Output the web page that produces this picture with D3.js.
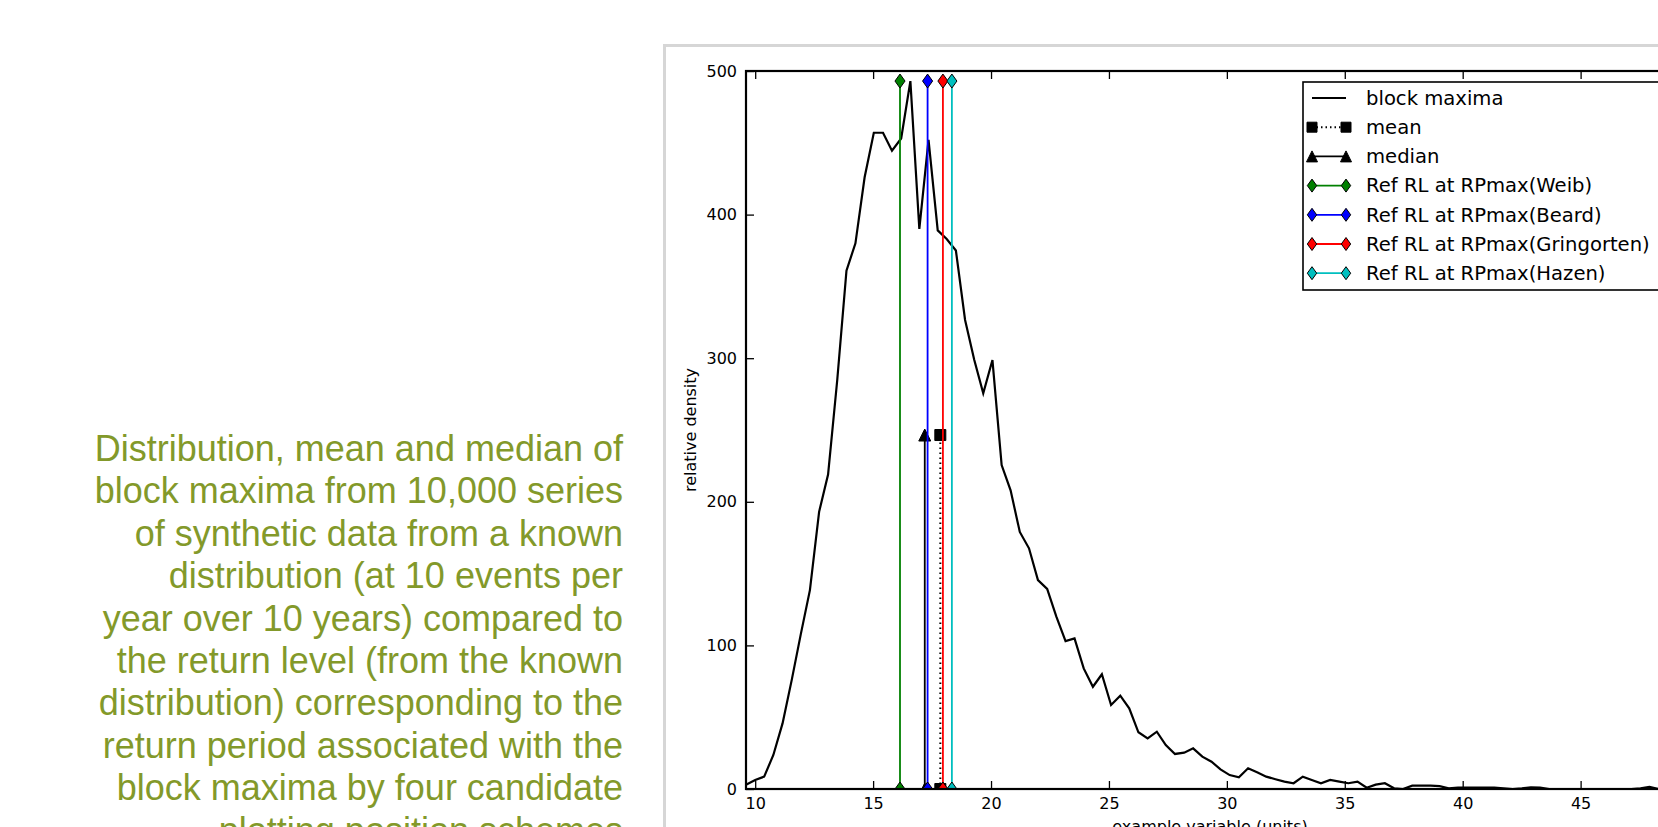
<!DOCTYPE html>
<html>
<head>
<meta charset="utf-8">
<script src="https://cdn.jsdelivr.net/npm/d3@7"></script>
<style>
  html, body { margin: 0; padding: 0; background: #fff; overflow: hidden; }
  svg { display: block; }
</style>
</head>
<body>
<div id="chart"></div>
<script>
// bin centres of the block maxima histogram (example variable, units)
var bins = [9.61, 10.00, 10.38, 10.77, 11.16, 11.55, 11.93, 12.32, 12.71, 13.09,
            13.48, 13.87, 14.25, 14.64, 15.03, 15.42, 15.80, 16.19, 16.58, 16.96,
            17.35, 17.74, 18.12, 18.51, 18.90, 19.29, 19.67, 20.06, 20.45, 20.83,
            21.22, 21.61, 21.99, 22.38, 22.77, 23.16, 23.54, 23.93, 24.32, 24.70,
            25.09, 25.48, 25.86, 26.25, 26.64, 27.03, 27.41, 27.80, 28.19, 28.57,
            28.96, 29.35, 29.73, 30.12, 30.51, 30.90, 31.28, 31.67, 32.06, 32.44,
            32.83, 33.22, 33.60, 33.99, 34.38, 34.77, 35.15, 35.54, 35.93, 36.31,
            36.70, 37.09, 37.47, 37.86, 38.25, 38.64, 39.02, 39.41, 39.80, 40.18,
            40.57, 40.96, 41.34, 41.73, 42.12, 42.51, 42.89, 43.28, 43.67, 44.05,
            44.44, 44.83, 45.21, 45.60, 45.99, 46.38, 46.76, 47.15, 47.54, 47.92,
            48.31];

// relative density
var density = [3, 6.3, 8.6, 23.7, 45.7, 76, 107.5, 138.5, 193, 219,
               285, 361, 380, 426, 457, 457, 444.5, 453, 493, 390,
               452, 389, 383, 375, 326.6, 298.7, 275.6, 298.7, 225.6, 208,
               179, 167.6, 145.5, 139.3, 120, 103, 104.9, 84, 71.2, 79.9,
               58.5, 65, 56.2, 39.5, 35.3, 39.9, 30.6, 24.4, 25.3, 28.3,
               22.5, 19, 13.7, 9.7, 8.1, 14.4, 11.6, 8.6, 6.8, 5.1,
               4, 8.6, 6.3, 4, 6.3, 5.1, 4, 5.1, 0.9, 3,
               4, 0.5, 0, 2.3, 2.3, 2.3, 2, 0.5, 1, 1,
               1, 1, 1, 0.5, 0, 0.5, 1.2, 1, 0, 0,
               0, 0, 0, 0, 0, 0, 0, 0, 0.5, 1.5,
               0];

var xTicks = [10, 15, 20, 25, 30, 35, 40, 45];
var yTicks = [0, 100, 200, 300, 400, 500];
var xDomain = [9.61, 48.96];
var yDomain = [0, 500];

var meanValue = 17.85;
var medianValue = 17.19;
var statHeight = 246.5;   // half of the peak
var refHeight = 493;      // peak of the curve

var refNames = ["Ref RL at RPmax(Weib)", "Ref RL at RPmax(Beard)",
                "Ref RL at RPmax(Gringorten)", "Ref RL at RPmax(Hazen)"];
var refValues = [16.14, 17.31, 17.96, 18.34];
var refColors = ["#008000", "#0000ff", "#ff0000", "#00bfbf"];

var caption = ["Distribution, mean and median of",
               "block maxima from 10,000 series",
               "of synthetic data from a known",
               "distribution (at 10 events per",
               "year over 10 years) compared to",
               "the return level (from the known",
               "distribution) corresponding to the",
               "return period associated with the",
               "block maxima by four candidate",
               "plotting position schemes"];

var width = 1658, height = 827;
var margin = {left: 746, top: 71, right: 1674, bottom: 789};
var font = "DejaVu Sans, sans-serif";

var svg = d3.select("#chart").append("svg")
    .attr("width", width)
    .attr("height", height);

// caption on the left
svg.append("g")
    .selectAll("text")
    .data(caption)
  .enter()
    .append("text")
    .attr("x", 623)
    .attr("y", function(d, i) { return 461 + i * 42.4; })
    .attr("text-anchor", "end")
    .style("font-family", "Liberation Sans, Arial, sans-serif")
    .style("font-size", "36px")
    .style("fill", "#83992a")
    .text(function(d) { return d; });

// figure frame
svg.append("rect")
    .attr("x", 664.5).attr("y", 45.5)
    .attr("width", 1100).attr("height", 900)
    .style("fill", "#fff")
    .style("stroke", "#d6d6d6")
    .style("stroke-width", 3);

var xScale = d3.scaleLinear().domain(xDomain).range([margin.left, margin.right]);
var yScale = d3.scaleLinear().domain(yDomain).range([margin.bottom, margin.top]);

svg.append("clipPath").attr("id", "plotclip")
  .append("rect")
    .attr("x", margin.left).attr("y", margin.top)
    .attr("width", margin.right - margin.left)
    .attr("height", margin.bottom - margin.top);

var plot = svg.append("g").attr("clip-path", "url(#plotclip)");

// marker shapes
function diamond(s) { return "M0," + (-s) + "L" + (s * 0.72) + ",0L0," + s + "L" + (-s * 0.72) + ",0Z"; }
function triangle(s) { return "M0," + (-s) + "L" + s + "," + s + "L" + (-s) + "," + s + "Z"; }
function square(s) { return "M" + (-s) + "," + (-s) + "h" + (2 * s) + "v" + (2 * s) + "h" + (-2 * s) + "Z"; }

var points = bins.map(function(b, i) { return [b, density[i]]; });

var line = d3.line()
    .x(function(d) { return xScale(d[0]); })
    .y(function(d) { return yScale(d[1]); });

plot.append("path")
    .datum(points)
    .attr("d", line)
    .style("fill", "none")
    .style("stroke", "#000")
    .style("stroke-width", 2.2)
    .style("stroke-linejoin", "miter");

// vertical marker lines: mean, median, then the four reference return levels
var verticals = [
  {value: meanValue, top: statHeight, color: "#000", marker: square(5.5), dash: "1.5,3.5"},
  {value: medianValue, top: statHeight, color: "#000", marker: triangle(6), dash: null}
];
refValues.forEach(function(v, i) {
  verticals.push({value: v, top: refHeight, color: refColors[i], marker: diamond(7), dash: null});
});

verticals.forEach(function(v) {
  var g = plot.append("g");
  g.append("line")
      .attr("x1", xScale(v.value)).attr("x2", xScale(v.value))
      .attr("y1", yScale(0)).attr("y2", yScale(v.top))
      .style("stroke", v.color)
      .style("stroke-width", v.dash ? 2 : 1.8)
      .style("stroke-dasharray", v.dash);
  g.selectAll("path")
      .data([0, v.top])
    .enter()
      .append("path")
      .attr("transform", function(d) { return "translate(" + xScale(v.value) + "," + yScale(d) + ")"; })
      .attr("d", v.marker)
      .style("fill", v.color)
      .style("stroke", "#000")
      .style("stroke-width", 1);
});

// axes with inward ticks
var xAxis = d3.axisBottom(xScale).tickValues(xTicks).tickSizeInner(-8).tickSizeOuter(0).tickPadding(9);
var xTop = d3.axisTop(xScale).tickValues(xTicks).tickSizeInner(-8).tickSizeOuter(0).tickFormat("");
var yAxis = d3.axisLeft(yScale).tickValues(yTicks).tickSizeInner(-8).tickSizeOuter(0).tickPadding(9);

svg.append("g").attr("class", "x axis")
    .attr("transform", "translate(0," + margin.bottom + ")")
    .call(xAxis);
svg.append("g").attr("class", "x top")
    .attr("transform", "translate(0," + margin.top + ")")
    .call(xTop);
svg.append("g").attr("class", "y axis")
    .attr("transform", "translate(" + margin.left + ",0)")
    .call(yAxis);

svg.selectAll(".domain").remove();
svg.selectAll(".tick line").style("stroke", "#000").style("stroke-width", 1.3);
svg.selectAll(".tick text")
    .style("font-family", font)
    .style("font-size", "16px")
    .style("fill", "#000");

// spines
svg.append("rect")
    .attr("x", margin.left).attr("y", margin.top)
    .attr("width", margin.right - margin.left)
    .attr("height", margin.bottom - margin.top)
    .style("fill", "none")
    .style("stroke", "#000")
    .style("stroke-width", 2.2);

svg.append("text")
    .attr("transform", "translate(690," + ((margin.top + margin.bottom) / 2) + ") rotate(-90)")
    .attr("text-anchor", "middle")
    .attr("dy", "0.35em")
    .style("font-family", font)
    .style("font-size", "16px")
    .text("relative density");

svg.append("text")
    .attr("x", (margin.left + margin.right) / 2)
    .attr("y", 832)
    .attr("text-anchor", "middle")
    .style("font-family", font)
    .style("font-size", "16px")
    .text("example variable (units)");

// legend
var legendItems = [
  {name: "block maxima", color: "#000", marker: null, dash: null},
  {name: "mean", color: "#000", marker: square(5), dash: "1.5,3"},
  {name: "median", color: "#000", marker: triangle(5.5), dash: null}
];
refNames.forEach(function(n, i) {
  legendItems.push({name: n, color: refColors[i], marker: diamond(6.5), dash: null});
});

var legend = svg.append("g");
legend.append("rect")
    .attr("x", 1303).attr("y", 82)
    .attr("width", 370).attr("height", 208)
    .style("fill", "#fff")
    .style("stroke", "#000")
    .style("stroke-width", 1.6);

var rows = legend.selectAll(".legendRow")
    .data(legendItems)
  .enter()
    .append("g")
    .attr("class", "legendRow")
    .attr("transform", function(d, i) { return "translate(0," + (98 + i * 29.2) + ")"; });

rows.append("line")
    .attr("x1", 1312).attr("x2", 1346)
    .attr("y1", 0).attr("y2", 0)
    .style("stroke", function(d) { return d.color; })
    .style("stroke-width", function(d) { return d.dash ? 2 : 1.8; })
    .style("stroke-dasharray", function(d) { return d.dash; });

rows.each(function(d) {
  if (!d.marker) return;
  d3.select(this).selectAll("path")
      .data([1312, 1346])
    .enter()
      .append("path")
      .attr("transform", function(x) { return "translate(" + x + ",0)"; })
      .attr("d", d.marker)
      .style("fill", d.color)
      .style("stroke", "#000")
      .style("stroke-width", 1);
});

rows.append("text")
    .attr("x", 1366)
    .attr("dy", "0.35em")
    .style("font-family", font)
    .style("font-size", "19.6px")
    .style("fill", "#000")
    .text(function(d) { return d.name; });
</script>
</body>
</html>
